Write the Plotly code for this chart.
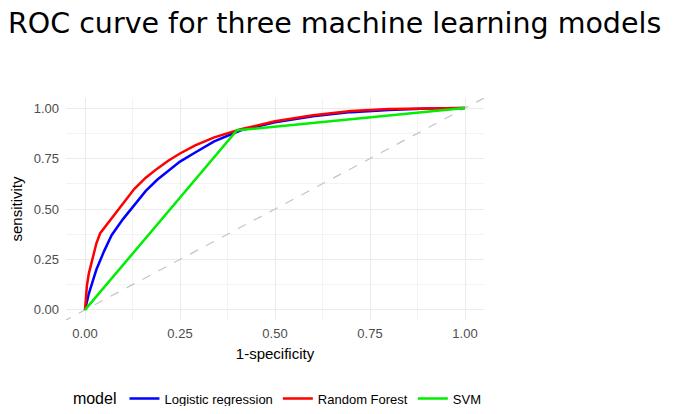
import plotly.graph_objects as go

# Logistic regression ROC
lr_fpr = [0, 0.005, 0.01, 0.02, 0.03, 0.05, 0.07, 0.10, 0.13, 0.16, 0.19, 0.22, 0.25, 0.29, 0.34, 0.41, 0.50, 0.60, 0.70, 0.80, 0.90, 1.0]
lr_tpr = [0, 0.05, 0.08, 0.14, 0.20, 0.29, 0.37, 0.45, 0.52, 0.59, 0.645, 0.69, 0.735, 0.78, 0.835, 0.89, 0.93, 0.96, 0.98, 0.99, 0.998, 1.0]

# Random forest ROC
rf_fpr = [0, 0.005, 0.01, 0.02, 0.03, 0.04, 0.06, 0.08, 0.10, 0.13, 0.16, 0.19, 0.22, 0.25, 0.29, 0.34, 0.41, 0.50, 0.60, 0.70, 0.80, 0.90, 1.0]
rf_tpr = [0, 0.12, 0.18, 0.26, 0.33, 0.38, 0.43, 0.48, 0.53, 0.60, 0.655, 0.70, 0.74, 0.775, 0.815, 0.855, 0.895, 0.935, 0.965, 0.985, 0.995, 0.999, 1.0]

# SVM ROC
svm_fpr = [0, 0.40, 1.0]
svm_tpr = [0, 0.89, 1.0]

diag = [-0.1, 1.1]

ticks = [0, 0.25, 0.5, 0.75, 1.0]
tick_text = ["0.00", "0.25", "0.50", "0.75", "1.00"]

SANS = "Liberation Sans, Arial, sans-serif"

fig = go.Figure()
fig.add_trace(go.Scatter(x=diag, y=diag, mode="lines", showlegend=False,
                         line=dict(color="#c4c4c4", width=1.2, dash="dash"), hoverinfo="skip"))
fig.add_trace(go.Scatter(x=lr_fpr, y=lr_tpr, mode="lines", name="Logistic regression",
                         line=dict(color="#0000ff", width=2.5)))
fig.add_trace(go.Scatter(x=rf_fpr, y=rf_tpr, mode="lines", name="Random Forest",
                         line=dict(color="#ff0000", width=2.5)))
fig.add_trace(go.Scatter(x=svm_fpr, y=svm_tpr, mode="lines", name="SVM",
                         line=dict(color="#00ee00", width=2.5)))

axis_common = dict(
    tickvals=ticks, ticktext=tick_text, range=[-0.05, 1.05], automargin=False,
    showgrid=True, gridcolor="#ebebeb", gridwidth=1, zeroline=False,
    showline=False, ticks="", tickfont=dict(family=SANS, size=13, color="#4d4d4d"),
    minor=dict(showgrid=True, gridcolor="#f3f3f3", gridwidth=0.7, dtick=0.125, tick0=0),
)

# The page body adds an 8px margin, so the figure is sized to the remaining window.
fig.update_layout(
    width=669, height=398,
    paper_bgcolor="white", plot_bgcolor="white",
    margin=dict(l=58, r=193, t=90, b=86),
    title=dict(text="ROC curve for three machine learning models", x=0, xref="container", xanchor="left",
               y=0.987, yref="container", yanchor="top", automargin=False, pad=dict(l=0, r=0, t=0, b=0),
               font=dict(family="DejaVu Sans, sans-serif", size=28.5, color="black")),
    xaxis=dict(axis_common, ticklabelstandoff=4,
               title=dict(text="1-specificity", standoff=8, font=dict(family=SANS, size=15, color="black"))),
    yaxis=dict(axis_common, ticklabelstandoff=6,
               title=dict(text="sensitivity", standoff=9, font=dict(family=SANS, size=15, color="black"))),
    legend=dict(orientation="h", xref="container", yref="container", x=0.094, xanchor="left",
                y=0.0176, yanchor="middle",
                title=dict(text="model", font=dict(family=SANS, size=16, color="black")),
                font=dict(family=SANS, size=13, color="black"),
                itemwidth=30, tracegroupgap=0),
)

fig.write_html("out.html")
